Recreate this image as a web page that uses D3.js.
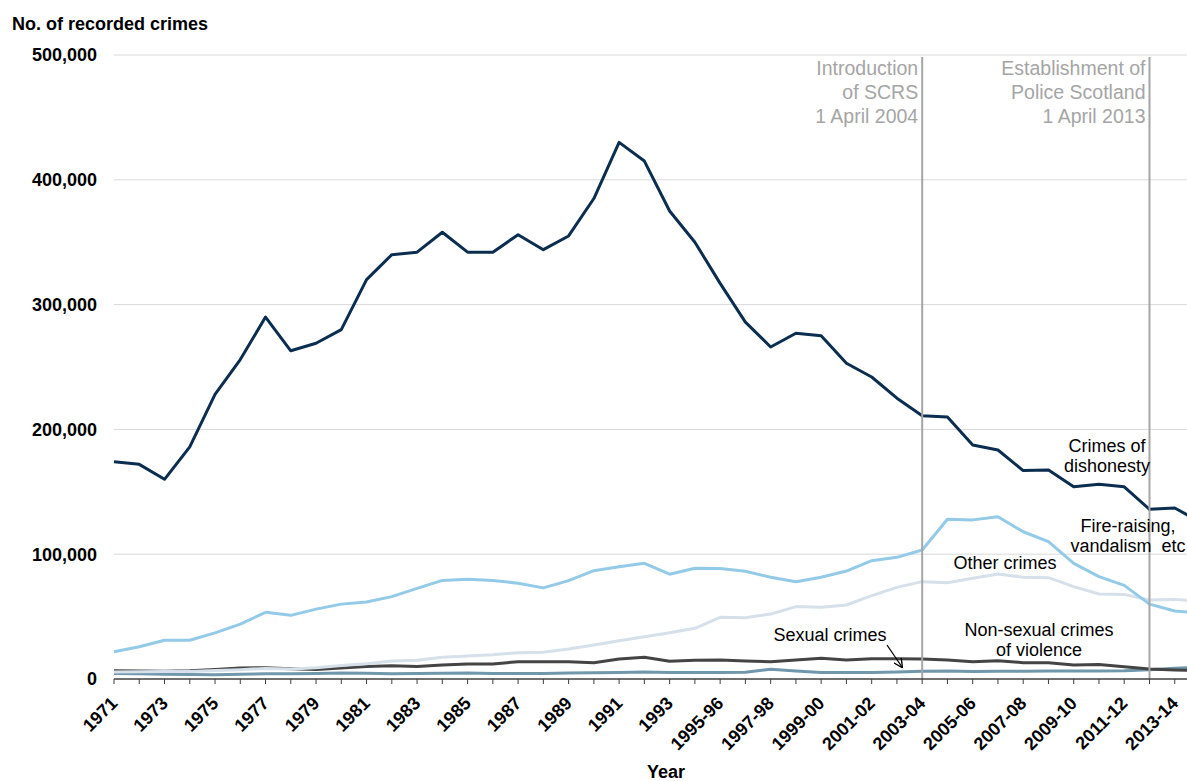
<!DOCTYPE html>
<html>
<head>
<meta charset="utf-8">
<script src="https://cdn.jsdelivr.net/npm/d3@7"></script>
<style>
  html, body { margin: 0; padding: 0; background: #fff; }
  svg { display: block; font-family: "Liberation Sans", Arial, sans-serif; }
  .tick-y { font-size: 18px; font-weight: bold; fill: #000; }
  .tick-x { font-size: 18px; font-weight: bold; fill: #000; }
  .series-label { font-size: 18px; fill: #000; white-space: pre; }
  .event-label { font-size: 19.5px; fill: #a5a5a5; }
</style>
</head>
<body>
<div id="chart"></div>
<script>
// Recorded crimes by group, Scotland 1971 - 2014-15

const years = [
  '1971', '1972', '1973', '1974', '1975', '1976', '1977', '1978', '1979', '1980',
  '1981', '1982', '1983', '1984', '1985', '1986', '1987', '1988', '1989', '1990',
  '1991', '1992', '1993', '1994', '1995-96', '1996-97', '1997-98', '1998-99', '1999-00', '2000-01',
  '2001-02', '2002-03', '2003-04', '2004-05', '2005-06', '2006-07', '2007-08', '2008-09', '2009-10', '2010-11',
  '2011-12', '2012-13', '2013-14', '2014-15'
];

// values in thousands
const dishonesty = [
  174, 172, 160, 186, 228, 256, 290, 263, 269, 280,
  320, 340, 342, 358, 342, 342, 356, 344, 355, 385,
  430, 415, 375, 350, 317, 286, 266, 277, 275, 253,
  242, 225, 211, 210, 187.5, 183.5, 167, 167.5, 154, 156,
  154, 136, 137, 126
];
const fireRaising = [
  21.9, 25.9, 31, 31, 37, 44, 53.4, 51, 56, 60,
  61.7, 66, 72.6, 79, 80, 79, 76.7, 73, 78.8, 86.8,
  90, 92.7, 84, 88.7, 88.5, 86.3, 81.5, 78, 81.5, 86.5,
  94.8, 97.5, 103.4, 128, 127.5, 130, 118, 110, 92.7, 82,
  75, 60, 54.5, 53
];
const otherCrimes = [
  5.6, 5.8, 6.0, 6.1, 6.8, 7.5, 8.5, 8.0, 9.0, 10.8,
  12.3, 14.4, 15, 17.4, 18.4, 19.5, 21.1, 21.4, 24, 27.2,
  30.7, 33.9, 37.1, 40.6, 49.4, 49.1, 52, 58, 57.4, 59.3,
  66.8, 73.4, 78, 77.2, 80.7, 84.1, 81.5, 81.2, 74, 68.1,
  67.8, 63.3, 63.8, 62.5
];
const violence = [
  6.7, 6.4, 6.2, 6.7, 7.7, 8.8, 9.1, 8.3, 7.7, 8.8,
  10.1, 10.7, 10.1, 11.2, 12, 12, 13.9, 13.9, 13.9, 13.1,
  16, 17.4, 14.2, 15, 15.2, 14.4, 13.8, 15.2, 16.6, 15.2,
  16.3, 16.3, 16, 15.2, 13.9, 14.6, 13.1, 13.1, 11.2, 11.7,
  9.9, 8, 7.2, 6.8
];
const sexual = [
  4.5, 4.2, 3.9, 3.6, 3.5, 3.8, 4.2, 4.3, 4.5, 4.8,
  4.6, 4.3, 4.5, 4.7, 4.9, 4.5, 4.4, 4.5, 4.9, 5.1,
  5.3, 5.7, 5.2, 5.3, 5.3, 5.4, 7.8, 6.4, 5.2, 5.3,
  5.3, 5.7, 6.2, 6.4, 6.1, 6.3, 6.3, 6.4, 6.4, 6.5,
  6.6, 7.4, 8.6, 9.5
];

const yTicks = [0, 100000, 200000, 300000, 400000, 500000];

const events = [
  { year: '2003-04', lines: ['Introduction', 'of SCRS', '1 April 2004'] },
  { year: '2012-13', lines: ['Establishment of', 'Police Scotland', '1 April 2013'] }
];

const series = [
  { name: 'sexual', values: sexual, color: '#7097ac' },
  { name: 'violence', values: violence, color: '#444444' },
  { name: 'other', values: otherCrimes, color: '#d5e0ea' },
  { name: 'fire', values: fireRaising, color: '#93cae7' },
  { name: 'dishonesty', values: dishonesty, color: '#0b2d4f' }
];

const W = 1187, H = 781;
const margin = { left: 114, top: 55, bottom: 102 };

const svg = d3.select('#chart').append('svg')
  .attr('width', W)
  .attr('height', H);

const x = d3.scalePoint()
  .domain(years)
  .range([margin.left, 1200]);

const y = d3.scaleLinear()
  .domain([0, 500000])
  .range([H - margin.bottom, margin.top]);

// gridlines
svg.append('g')
  .selectAll('line')
  .data(yTicks.slice(1))
  .enter().append('line')
  .attr('x1', margin.left).attr('x2', W)
  .attr('y1', d => y(d)).attr('y2', d => y(d))
  .attr('stroke', '#d9d9d9')
  .attr('stroke-width', 1);

// y labels
svg.append('g')
  .selectAll('text')
  .data(yTicks)
  .enter().append('text')
  .attr('class', 'tick-y')
  .attr('x', 97)
  .attr('y', d => y(d))
  .attr('dy', '0.36em')
  .attr('text-anchor', 'end')
  .text(d => d3.format(',')(d));

svg.append('text')
  .attr('x', 12).attr('y', 30)
  .attr('font-size', 18).attr('font-weight', 'bold')
  .text('No. of recorded crimes');

// lines
const line = d3.line()
  .x((d, i) => x(years[i]))
  .y(d => y(d * 1000));

svg.append('g')
  .selectAll('path')
  .data(series)
  .enter().append('path')
  .attr('d', d => line(d.values))
  .attr('fill', 'none')
  .attr('stroke', d => d.color)
  .attr('stroke-width', 3)
  .attr('stroke-linejoin', 'round');

// event markers
const ev = svg.append('g');
events.forEach(e => {
  const ex = x(e.year);
  ev.append('line')
    .attr('x1', ex).attr('x2', ex)
    .attr('y1', y(500000) + 2).attr('y2', y(0))
    .attr('stroke', '#a6a6a6')
    .attr('stroke-width', 2);
  ev.append('text')
    .attr('class', 'event-label')
    .attr('text-anchor', 'end')
    .selectAll('tspan')
    .data(e.lines)
    .enter().append('tspan')
    .attr('x', ex - 4)
    .attr('y', (d, i) => 75 + i * 24)
    .text(d => d);
});

// x axis
const xAxis = svg.append('g');
xAxis.append('line')
  .attr('x1', margin.left).attr('x2', W)
  .attr('y1', y(0)).attr('y2', y(0))
  .attr('stroke', '#404040')
  .attr('stroke-width', 1.5);
xAxis.selectAll('.tk')
  .data(years)
  .enter().append('line')
  .attr('class', 'tk')
  .attr('x1', d => x(d)).attr('x2', d => x(d))
  .attr('y1', y(0)).attr('y2', y(0) + 5)
  .attr('stroke', '#404040');
xAxis.selectAll('.tick-x')
  .data(years.filter((d, i) => i % 2 === 0))
  .enter().append('text')
  .attr('class', 'tick-x')
  .attr('transform', d => `translate(${x(d)},700) rotate(-45)`)
  .attr('text-anchor', 'end')
  .attr('dy', '0.35em')
  .text(d => d);

svg.append('text')
  .attr('x', 666).attr('y', 778)
  .attr('text-anchor', 'middle')
  .attr('font-size', 18).attr('font-weight', 'bold')
  .text('Year');

// series labels
const labels = [
  { lines: ['Crimes of', 'dishonesty'], cx: 1107, y: 452 },
  { lines: ['Fire-raising,', 'vandalism  etc'], cx: 1128, y: 532 },
  { lines: ['Other crimes'], cx: 1005, y: 569 },
  { lines: ['Sexual crimes'], cx: 830, y: 641 },
  { lines: ['Non-sexual crimes', 'of violence'], cx: 1039, y: 636 }
];
labels.forEach(l => {
  svg.append('text')
    .attr('class', 'series-label')
    .attr('text-anchor', 'middle')
    .selectAll('tspan')
    .data(l.lines)
    .enter().append('tspan')
    .attr('x', l.cx)
    .attr('y', (d, i) => l.y + i * 20)
    .text(d => d);
});

// arrow for sexual crimes
svg.append('defs').append('marker')
  .attr('id', 'arrow')
  .attr('viewBox', '0 0 10 10')
  .attr('refX', 9).attr('refY', 5)
  .attr('markerWidth', 7).attr('markerHeight', 7)
  .attr('orient', 'auto')
  .append('path')
  .attr('d', 'M0,0 L10,5 L0,10')
  .attr('fill', 'none')
  .attr('stroke', '#000')
  .attr('stroke-width', 1.5);

svg.append('line')
  .attr('x1', 887).attr('y1', 645)
  .attr('x2', 902).attr('y2', 667)
  .attr('stroke', '#000')
  .attr('stroke-width', 1.3)
  .attr('marker-end', 'url(#arrow)');
</script>
</body>
</html>
